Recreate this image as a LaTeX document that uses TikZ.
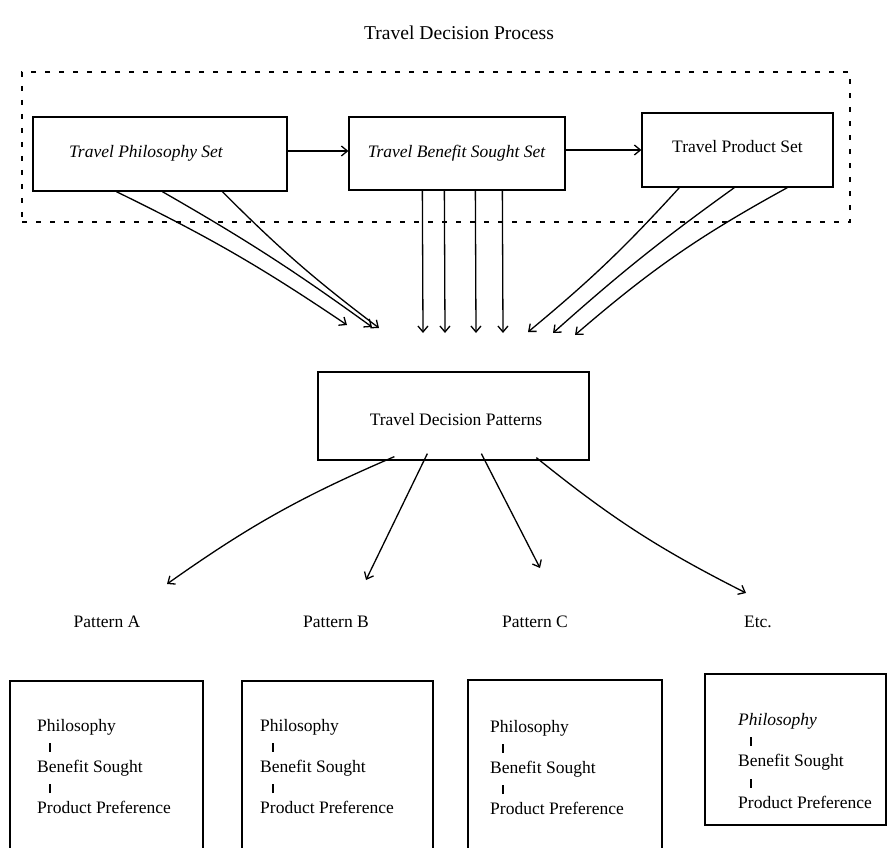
\documentclass[tikz,border=0pt]{standalone}
\usepackage{fontspec}
\setmainfont{Liberation Serif}
\usetikzlibrary{arrows.meta}
\newcommand{\vbar}{\hspace*{12pt}\rule{1.5pt}{9pt}}
\newcommand{\chain}{Philosophy\\\vbar\\Benefit Sought\\\vbar\\Product Preference}
\begin{document}
\begin{tikzpicture}[x=1pt,y=-1pt,
  box/.style={draw, line width=1.3pt, inner sep=0pt},
  frame/.style={draw, line width=1.2pt, dash pattern=on 5pt off 9pt, inner sep=0pt},
  lbl/.style={font=\fontsize{17.5}{20.6}\selectfont, inner sep=0pt},
  ilbl/.style={lbl, font=\fontsize{17.5}{20.6}\selectfont\itshape},
  stack/.style={lbl, align=left, anchor=north west},
  arr/.style={line width=1.3pt, -{Straight Barb[length=6pt,width=10pt,line width=1.3pt]}},
  ]
\useasboundingbox (0,0) rectangle (889,848);

\node[lbl, font=\fontsize{19.6}{23}\selectfont] (title) at (459,33) {Travel Decision Process};

\node[frame, minimum width=828pt, minimum height=150pt] (frm) at (436,147) {};

\node[box, minimum width=254pt, minimum height=74pt] (phil) at (160,154) {};
\node[box, minimum width=216pt, minimum height=73pt] (ben) at (457,153.5) {};
\node[box, minimum width=191pt, minimum height=74pt] (prod) at (737.5,150) {};
\node[ilbl] (philt) at (146,153) {Travel Philosophy Set};
\node[ilbl] (bent) at (456.5,153) {Travel Benefit Sought Set};
\node[lbl] (prodt) at (737.5,147) {Travel Product Set};

\draw[arr] ([yshift=3pt]phil.east) -- ([yshift=3pt]phil.east -| ben.west);
\draw[arr] ([yshift=3.5pt]ben.east) -- ([yshift=3.5pt]ben.east -| prod.west);

\coordinate (l1) at (347,325);
\coordinate (l2) at (372,327);
\coordinate (l3) at (379,328);
\draw[arr] ([xshift=84pt]phil.south west) to[bend left=4] (l1);
\draw[arr] ([xshift=130pt]phil.south west) to[bend left=3] (l2);
\draw[arr] ([xshift=190pt]phil.south west) to[bend right=4] (l3);

\coordinate (m1) at (423,333);
\coordinate (m2) at (445,333);
\coordinate (m3) at (476,333);
\coordinate (m4) at (503,333);
\draw[arr] ([xshift=74pt]ben.south west) -- (m1);
\draw[arr] ([xshift=96pt]ben.south west) -- (m2);
\draw[arr] ([xshift=127pt]ben.south west) -- (m3);
\draw[arr] ([xshift=154pt]ben.south west) -- (m4);

\coordinate (r1) at (528,332);
\coordinate (r2) at (553,333);
\coordinate (r3) at (575,335);
\draw[arr] ([xshift=38pt]prod.south west) to[bend left=4] (r1);
\draw[arr] ([xshift=93pt]prod.south west) to[bend right=3] (r2);
\draw[arr] ([xshift=146pt]prod.south west) to[bend right=6] (r3);

\node[box, minimum width=271pt, minimum height=88pt] (dec) at (453.5,416) {};
\node[lbl] (dect) at (456,420) {Travel Decision Patterns};

\node[lbl] (pa) at (107,622) {Pattern A};
\node[lbl] (pb) at (336,622) {Pattern B};
\node[lbl] (pc) at (535,622) {Pattern C};
\node[lbl] (pd) at (758,622) {Etc.};

\coordinate (b1) at (167,584);
\coordinate (b2) at (366,580);
\coordinate (b3) at (540,568);
\coordinate (b4) at (746,593);
\draw[arr] ([xshift=77pt,yshift=4pt]dec.south west) to[bend right=6] (b1);
\draw[arr] ([xshift=110pt,yshift=7pt]dec.south west) -- (b2);
\draw[arr] ([xshift=164pt,yshift=7pt]dec.south west) -- (b3);
\draw[arr] ([xshift=219pt,yshift=3pt]dec.south west) to[bend right=6] (b4);

\node[box, minimum width=193pt, minimum height=172pt] (ba) at (106.5,767) {};
\node[box, minimum width=191pt, minimum height=172pt] (bb) at (337.5,767) {};
\node[box, minimum width=194pt, minimum height=172pt] (bc) at (565,766) {};
\node[box, minimum width=181pt, minimum height=151pt] (bd) at (795.5,749.5) {};

\node[stack] (ta) at (37,719) {\chain};
\node[stack] (tb) at (260,719) {\chain};
\node[stack] (tc) at (490,720) {\chain};
\node[stack, font=\fontsize{17.5}{20.8}\selectfont] (td) at (738,713) {\itshape Philosophy\\\vbar\\Benefit Sought\\\vbar\\Product Preference};
\end{tikzpicture}
\end{document}
